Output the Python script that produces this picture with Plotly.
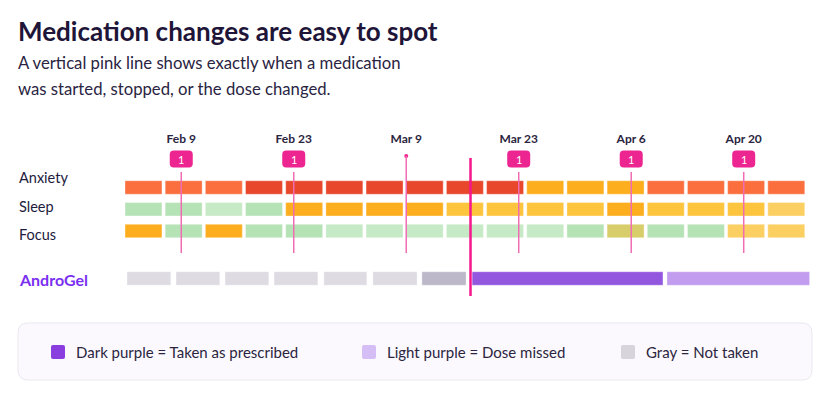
import plotly.graph_objects as go
import pandas as pd

# ---------------- data ----------------
origin = pd.Timestamp("2025-02-02")
span_days = 85.25

rows = ["Anxiety", "Sleep", "Focus"]
anxiety = ["high"] * 3 + ["severe"] * 7 + ["moderate"] * 3 + ["high"] * 4
sleep = ["good", "good", "great", "good", "moderate", "moderate", "moderate", "moderate",
         "mild", "mild", "mild", "mild", "moderate", "mild", "mild", "mild", "light"]
focus = ["moderate", "good", "moderate", "good", "good", "great", "great", "great",
         "great", "great", "great", "good", "fair", "good", "good", "light", "light"]
level_colors = {
    "severe": "#e9472b",
    "high": "#fb6f3f",
    "moderate": "#fdae1e",
    "mild": "#fdc53e",
    "light": "#fccf62",
    "fair": "#d7cd6b",
    "good": "#b6e3b6",
    "great": "#c6eac6",
}
period_days = 5
block_days = 4.6

marker_dates = ["2025-02-09", "2025-02-23", "2025-03-09", "2025-03-23", "2025-04-06", "2025-04-20"]
marker_labels = ["Feb 9", "Feb 23", "Mar 9", "Mar 23", "Apr 6", "Apr 20"]
marker_counts = [1, 1, None, 1, 1, 1]

med_name = "AndroGel"
med_change_date = "2025-03-17"
andro_start_day = [0.25, 6.35, 12.45, 18.55, 24.75, 30.85, 36.95, 43.2, 67.45]
andro_end_day = [5.7, 11.8, 17.9, 24.0, 30.1, 36.35, 42.45, 66.95, 85.2]
andro_status = ["not_taken"] * 6 + ["not_taken_recent", "taken", "missed"]
andro_colors = {
    "not_taken": "#dedbe3",
    "not_taken_recent": "#bdb8c9",
    "taken": "#9356df",
    "missed": "#c29cef",
}

legend_labels = ["Dark purple = Taken as prescribed", "Light purple = Dose missed", "Gray = Not taken"]
legend_colors = ["#8a3ee0", "#d5bef5", "#d7d4dc"]

title = "Medication changes are easy to spot"
subtitle = ["A vertical pink line shows exactly when a medication",
            "was started, stopped, or the dose changed."]

# ---------------- layout helpers ----------------
W, H = 829, 401
L, R, T, B = 125, 810, 146, 300
ROW0_PX, ROW_STEP = 187.5, 21.75


def px_x(x):
    return (x - L) / (R - L)


def px_y(y):
    return (B - y) / (B - T)


def unit(y):
    return (y - ROW0_PX) / ROW_STEP


def day(d):
    return origin + pd.Timedelta(days=d)


def rounded_path(x0, y0, x1, y1, r, fx=lambda v: v, fy=lambda v: v):
    pts = [
        ("M", [(x0 + r, y0)]),
        ("L", [(x1 - r, y0)]),
        ("Q", [(x1, y0), (x1, y0 + r)]),
        ("L", [(x1, y1 - r)]),
        ("Q", [(x1, y1), (x1 - r, y1)]),
        ("L", [(x0 + r, y1)]),
        ("Q", [(x0, y1), (x0, y1 - r)]),
        ("L", [(x0, y0 + r)]),
        ("Q", [(x0, y0), (x0 + r, y0)]),
    ]
    s = ""
    for cmd, ps in pts:
        s += cmd + " " + " ".join(f"{fx(a):.5f},{fy(b):.5f}" for a, b in ps) + " "
    return s + "Z"


MS_DAY = 86400000
FONT = "Lato"
DARK = "#231b3d"

fig = go.Figure()

# tracker rows
for i, (name, levels) in enumerate(zip(rows, [anxiety, sleep, focus])):
    starts = [day(k * period_days) for k in range(len(levels))]
    fig.add_trace(go.Bar(
        y=[i] * len(levels), x=[block_days * MS_DAY] * len(levels), base=starts,
        orientation="h", width=0.62,
        marker=dict(color=[level_colors[v] for v in levels],
                    line=dict(width=1, color="rgba(255,255,255,0.35)")),
        name=name, showlegend=False, hoverinfo="skip",
    ))

# medication row
andro_y = unit(278.5)
fig.add_trace(go.Bar(
    y=[andro_y] * len(andro_status),
    x=[(e - s) * MS_DAY for s, e in zip(andro_start_day, andro_end_day)],
    base=[day(s) for s in andro_start_day],
    orientation="h", width=0.62,
    marker=dict(color=[andro_colors[s] for s in andro_status],
                line=dict(width=1, color="rgba(255,255,255,0.35)")),
    name=med_name, showlegend=False, hoverinfo="skip",
))

shapes = []
annotations = []

# thin pink marker lines + badges
for d, c in zip(marker_dates, marker_counts):
    top = unit(172) if c is not None else unit(156)
    shapes.append(dict(type="line", xref="x", yref="y", x0=d, x1=d, y0=top, y1=unit(253),
                       line=dict(color="#f06cb3", width=1.5), layer="above"))
    if c is not None:
        shapes.append(dict(type="path", xref="x", yref="y", xsizemode="pixel", ysizemode="pixel",
                           xanchor=d, yanchor=unit(159),
                           path=rounded_path(-11.5, -8.5, 11.5, 8.5, 4),
                           fillcolor="#ec2590", line=dict(width=0), layer="above"))
        annotations.append(dict(x=d, y=unit(159), xref="x", yref="y", text=str(c), showarrow=False,
                                font=dict(family=FONT, size=11, color="white")))

# dot on the badge-less line
fig.add_trace(go.Scatter(
    x=[d for d, c in zip(marker_dates, marker_counts) if c is None],
    y=[unit(156)] * sum(c is None for c in marker_counts),
    mode="markers", marker=dict(size=4, color="#ec2590"), showlegend=False, hoverinfo="skip",
))

# medication change line
shapes.append(dict(type="line", xref="x", yref="y", x0=med_change_date, x1=med_change_date,
                   y0=unit(158), y1=unit(296), line=dict(color="#f5168c", width=2.5), layer="above"))

# row labels
for name, ypx in zip(rows, [177, 206, 234]):
    annotations.append(dict(xref="paper", yref="paper", x=px_x(17), y=px_y(ypx), xanchor="left",
                            yanchor="middle", text=name, showarrow=False,
                            font=dict(family=FONT, size=14.5, color=DARK)))
annotations.append(dict(xref="paper", yref="paper", x=px_x(17), y=px_y(279), xanchor="left",
                        yanchor="middle", text=med_name, showarrow=False,
                        font=dict(family=FONT, size=16, color="#7a2ff0", weight=700)))

# title + subtitle
annotations.append(dict(xref="paper", yref="paper", x=px_x(16), y=px_y(31), xanchor="left",
                        yanchor="middle", text=title, showarrow=False,
                        font=dict(family=FONT, size=26, color="#1e1538", weight=700)))
for txt, ypx in zip(subtitle, [63, 89]):
    annotations.append(dict(xref="paper", yref="paper", x=px_x(16), y=px_y(ypx), xanchor="left",
                            yanchor="middle", text=txt, showarrow=False,
                            font=dict(family=FONT, size=16.7, color="#2a2442")))

# legend box
shapes.append(dict(type="path", xref="paper", yref="paper",
                   path=rounded_path(18, 323, 812, 380, 10, px_x, px_y),
                   fillcolor="#fbf9fd", line=dict(color="#ebe7f0", width=1), layer="below"))
for lab, col, sx in zip(legend_labels, legend_colors, [51, 362, 621]):
    shapes.append(dict(type="path", xref="paper", yref="paper",
                       path=rounded_path(sx, 345, sx + 14, 359, 2, px_x, px_y),
                       fillcolor=col, line=dict(width=0)))
    annotations.append(dict(xref="paper", yref="paper", x=px_x(sx + 23), y=px_y(352), xanchor="left",
                            yanchor="middle", text=lab, showarrow=False,
                            font=dict(family=FONT, size=15, color="#2b2540")))

fig.update_layout(
    width=W, height=H,
    margin=dict(l=L, r=W - R, t=T, b=H - B, pad=0),
    paper_bgcolor="white", plot_bgcolor="rgba(0,0,0,0)",
    barmode="overlay", hovermode=False,
    shapes=shapes, annotations=annotations,
    xaxis=dict(type="date", range=[origin, day(span_days)], side="top",
               tickvals=marker_dates, ticktext=marker_labels, ticks="",
               showgrid=False, zeroline=False, showline=False,
               tickfont=dict(family=FONT, size=12, color="#2a2540", weight=700)),
    yaxis=dict(range=[unit(B), unit(T)], visible=False, showgrid=False, zeroline=False),
)

fig.write_html("out.html")
